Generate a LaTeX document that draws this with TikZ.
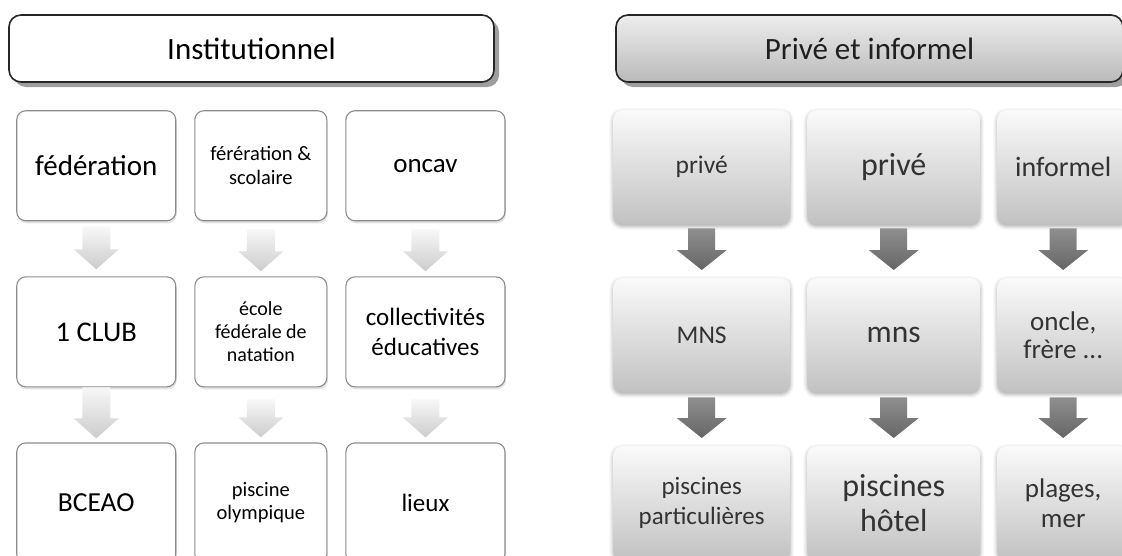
\documentclass[tikz,border=0pt]{standalone}
\usepackage{fontspec}
\setmainfont{Carlito}
\usepackage{tikz}
\usetikzlibrary{matrix,calc,shadows,shadows.blur}

\newcommand{\fsz}[2]{\fontsize{#1}{#2}\selectfont}

\begin{document}
\begin{tikzpicture}[x=1pt, y=-1pt,
      header/.style={draw=black!85, line width=1.6pt, rounded corners=12pt,
          minimum height=67pt, font=\fsz{31}{36},
          drop shadow={shadow xshift=5pt, shadow yshift=-5pt, fill=black!38, opacity=1}},
      instbox/.style={draw=black!45, line width=1.1pt, fill=white, rounded corners=9pt,
          align=center, anchor=center, inner sep=2pt,
          drop shadow={shadow xshift=1pt, shadow yshift=-2.5pt, opacity=.22}},
      privbox/.style={top color=black!2, bottom color=black!24, rounded corners=9pt,
          text=black!80, align=center, anchor=center, inner sep=2pt,
          blur shadow={shadow xshift=0pt, shadow yshift=-2pt, shadow blur radius=4pt, shadow opacity=35}},
      lightarrow/.style={top color=black!3, bottom color=black!20},
      darkarrow/.style={top color=black!44, bottom color=black!60}]

    \useasboundingbox (0,0) rectangle (1122,555);

    \node[header, fill=white, minimum width=485pt] (insthead) at (251.5,48.5) {Institutionnel};
    \node[header, top color=black!7, bottom color=black!27, text=black!88,
        minimum width=507pt] (privhead) at (869.5,48.5) {Privé et informel};

    \matrix[anchor=north west, inner sep=0pt,
        row sep=55pt, column sep=18pt,
        nodes={instbox, minimum height=110pt},
        column 1/.style={nodes={minimum width=159pt}},
        column 2/.style={nodes={minimum width=132pt}},
        column 3/.style={nodes={minimum width=159pt}},
        row 3/.style={nodes={minimum height=120pt}}] (inst) at (16,110)
    {
        \node[font=\fsz{29}{32}] (fed) {fédération}; &
        \node[font=\fsz{20.5}{24}] (scol) {férération \&\\ scolaire}; &
        \node[font=\fsz{27}{30}] (oncav) {oncav};\\
        \node[font=\fsz{28.5}{32}] (club) {1 CLUB}; &
        \node[font=\fsz{20}{23}] (ecole) {école\\ fédérale de\\ natation}; &
        \node[font=\fsz{25}{30}] (collec) {collectivités\\ éducatives};\\
        \node[font=\fsz{27.5}{31}] (bceao) {BCEAO}; &
        \node[font=\fsz{20.5}{23}] (olymp) {piscine\\ olympique}; &
        \node[font=\fsz{25}{30}] (lieux) {lieux};\\
    };

    \matrix[anchor=north west, inner sep=0pt,
        row sep=54pt, column sep=17pt,
        nodes={privbox, minimum height=114pt},
        column 1/.style={nodes={minimum width=177pt}},
        column 2/.style={nodes={minimum width=173pt}},
        column 3/.style={nodes={minimum width=132pt}}] (priv) at (613,110)
    {
        \node[font=\fsz{25.5}{30}] (priveA) {privé}; &
        \node[font=\fsz{32}{36}] (priveB) {privé}; &
        \node[font=\fsz{28}{32}] (inform) {informel};\\
        \node[font=\fsz{25.5}{30}] (mnsA) {MNS}; &
        \node[font=\fsz{31.5}{36}] (mnsB) {mns}; &
        \node[font=\fsz{27}{28}] (oncle) {oncle,\\ frère ...};\\
        \node[font=\fsz{25}{30}] (partic) {piscines\\ particulières}; &
        \node[font=\fsz{32}{35}] (hotel) {piscines\\ hôtel}; &
        \node[font=\fsz{27}{30}] (plages) {plages,\\ mer};\\
    };

    % block arrows
    \foreach \src/\dst/\gapa/\gapb in {fed/club/5/7, scol/ecole/8/5, oncav/collec/8/5,
        club/bceao/0/4, ecole/olymp/12/5, collec/lieux/12/5}
      \shade[lightarrow] let \p1=(\src.south), \p2=(\dst.north) in
          ({\x1-14pt},{\y1-\gapa*1pt}) -- ({\x1+14pt},{\y1-\gapa*1pt})
          -- ({\x1+14pt},{\y2+\gapb*1pt+20pt}) -- ({\x1+22.5pt},{\y2+\gapb*1pt+20pt})
          -- ({\x1},{\y2+\gapb*1pt}) -- ({\x1-22.5pt},{\y2+\gapb*1pt+20pt})
          -- ({\x1-14pt},{\y2+\gapb*1pt+20pt}) -- cycle;

    \foreach \src/\dst/\gapa/\gapb in {priveA/mnsA/4/8, priveB/mnsB/4/8, inform/oncle/4/8,
        mnsA/partic/5/8, mnsB/hotel/5/8, oncle/plages/5/8}
      \shade[darkarrow] let \p1=(\src.south), \p2=(\dst.north) in
          ({\x1-13.5pt},{\y1-\gapa*1pt}) -- ({\x1+13.5pt},{\y1-\gapa*1pt})
          -- ({\x1+13.5pt},{\y2+\gapb*1pt+20pt}) -- ({\x1+25pt},{\y2+\gapb*1pt+20pt})
          -- ({\x1},{\y2+\gapb*1pt}) -- ({\x1-25pt},{\y2+\gapb*1pt+20pt})
          -- ({\x1-13.5pt},{\y2+\gapb*1pt+20pt}) -- cycle;
\end{tikzpicture}
\end{document}
